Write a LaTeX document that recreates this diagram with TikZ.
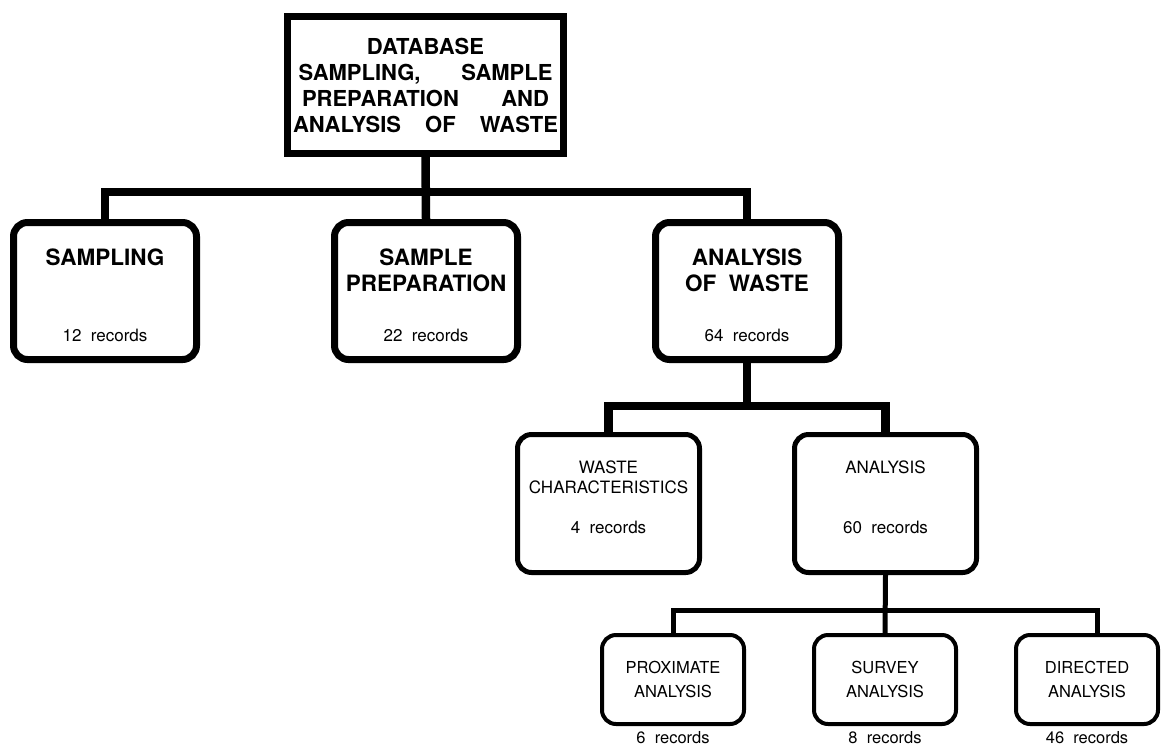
\documentclass[tikz,border=0pt]{standalone}
\usepackage{fontspec}
\setmainfont{TeX Gyre Heros}
\usetikzlibrary{positioning}
\newcommand{\rec}[1]{{\fontsize{17}{20}\selectfont\mdseries #1~~records}}

\begin{document}
\begin{tikzpicture}[x=1pt, y=1pt,
      top/.style={rectangle, draw, line width=7pt, align=center, inner sep=0pt,
                  minimum width=276pt, minimum height=137pt, font=\fontsize{22}{26}\selectfont\bfseries},
      b/.style={rectangle, rounded corners=14pt, draw, line width=7pt, align=center, inner sep=0pt,
                minimum width=183pt, minimum height=137pt, font=\fontsize{22.5}{25.5}\selectfont\bfseries},
      c/.style={rectangle, rounded corners=14pt, draw, line width=5pt, align=center, inner sep=0pt,
                minimum width=182pt, minimum height=138pt, font=\fontsize{17}{19.5}\selectfont},
      d/.style={rectangle, rounded corners=14pt, draw, line width=4pt, align=center, inner sep=0pt,
                minimum width=142pt, minimum height=89pt, font=\fontsize{16.5}{24}\selectfont},
      n/.style={inner sep=0pt, font=\fontsize{16.5}{20}\selectfont},
      trunk/.style={line width=8.5pt},
      twig/.style={line width=5pt}]
  \useasboundingbox[fill=white] (0,0) rectangle (1164,-748);
  \node[top] (db) at (425.5,-85) {DATABASE\\ \makebox[254pt][s]{SAMPLING, SAMPLE}\\
        \makebox[247pt][s]{PREPARATION AND}\\ \makebox[265pt][s]{ANALYSIS OF WASTE}};
  \node[b] (samp) at (105,-291) {\rule{0pt}{26pt}SAMPLING\\~\\[25pt]\rec{12}};
  \node[b, right=131pt of samp] (prep) {\rule{0pt}{26pt}SAMPLE\\PREPARATION\\[25pt]\rec{22}};
  \node[b, right=131pt of prep] (aow) {\rule{0pt}{26pt}ANALYSIS\\OF~~WASTE\\[25pt]\rec{64}};
  \node[c] (wc) at (608.5,-503.5) {WASTE\\CHARACTERISTICS\\[21pt]\rec{4}\rule[-12pt]{0pt}{12pt}};
  \node[c, right=90pt of wc] (ana) {ANALYSIS\\~\\[21pt]\rec{60}\rule[-12pt]{0pt}{12pt}};
  \node[d] (prox) at (673,-679.5) {PROXIMATE\\ANALYSIS};
  \node[d, right=66pt of prox] (surv) {SURVEY\\ANALYSIS};
  \node[d, right=56pt of surv] (dir) {DIRECTED\\ANALYSIS};
  \node[n, below=5pt of prox] (proxrec) {6~~records};
  \node[n, below=5pt of surv] (survrec) {8~~records};
  \node[n, below=5pt of dir] (dirrec) {46~~records};

  \draw[trunk] (db.south) -- (prep.north);
  \draw[trunk] (samp.north) -- ++(0,27) -| (aow.north);
  \draw[trunk] (aow.south) -- ++(0,-43) coordinate (fork);
  \draw[trunk] (wc.north) |- (fork) -| (ana.north);
  \draw[twig] (ana.south) -- (surv.north);
  \draw[twig] (prox.north) -- ++(0,23) -| ([xshift=10pt]dir.north);
\end{tikzpicture}
\end{document}
